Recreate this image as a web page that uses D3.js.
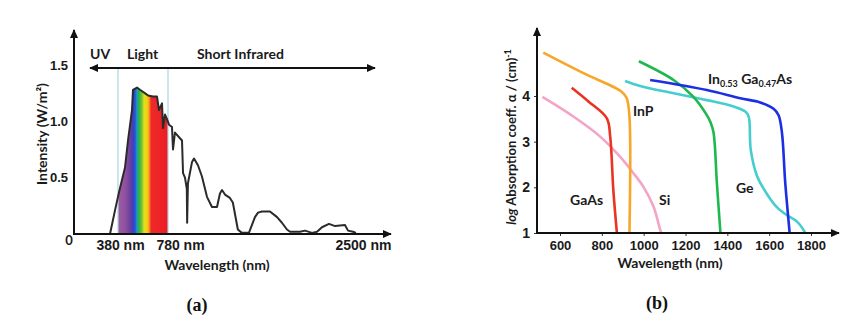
<!DOCTYPE html>
<html>
<head>
<meta charset="utf-8">
<script src="https://cdn.jsdelivr.net/npm/d3@7"></script>
<style>
  html, body { margin: 0; padding: 0; background: #fff; }
  svg { display: block; font-family: Lato, "Liberation Sans", sans-serif; }
  .lbl { font-weight: 700; font-size: 13px; fill: #1a1a1a; }
  .word { font-size: 14px; }
  .cap { font-family: "Liberation Serif", serif; font-weight: 700; font-size: 18px; fill: #111; }
</style>
</head>
<body>
<svg id="chart" width="850" height="335"></svg>
<script>
// ---- (a) solar spectrum at ground level ----
const spectrumNm = [316,356,388,436,460,492,500,532,556,620,660,692,708,732,740,756,772,789,815,824,
  841,885,903,912,929,945,948,955,991,1008,1043,1078,1122,1166,1210,1236,1254,1280,1323,1349,
  1393,1428,1490,1517,1543,1570,1605,1675,1737,1780,1824,1851,1938,1982,2044,2088,2131,2193,2246,2333,
  2360,2404,2430];
const spectrumW = [0,0.21,0.37,0.59,0.83,1.10,1.28,1.30,1.28,1.23,1.22,1.22,1.10,1.16,0.94,1.06,1.02,0.97,0.95,0.75,
  0.90,0.85,0.83,0.54,0.50,0.40,0.10,0.45,0.64,0.67,0.61,0.51,0.33,0.24,0.24,0.36,0.39,0.35,0.32,0.28,
  0.04,0.01,0.01,0.08,0.15,0.19,0.20,0.20,0.15,0.10,0.04,0.02,0.02,0.03,0.01,0.02,0.06,0.09,0.07,0.08,
  0.03,0.02,0.01];
const intensityTicks = [0.5, 1.0, 1.5];
const wavelengthMarks = [380, 780, 2500];
const bandNames = ["UV", "Light", "Short Infrared"];
// visible band colours, keyed by wavelength
const visibleStops = [
  [380, "#a35d9e"], [444, "#8a4f9f"], [476, "#6a40a0"], [492, "#5b3aa6"], [504, "#3a3fc8"],
  [520, "#1f62dc"], [532, "#1aa2bf"], [544, "#22b04e"], [572, "#7cc232"], [588, "#d8e11f"],
  [612, "#f8d012"], [628, "#f6a01e"], [644, "#ee2a2a"], [780, "#ec1c24"]
];

// ---- (b) absorption coefficient of detector materials: [wavelength nm, log alpha] ----
const InP    = [[520,4.95],[712,4.50],[896,4.09],[919,3.95],[932,3.55],[932,1.0]];
const GaAs   = [[656,4.18],[736,3.88],[824,3.51],[840,3.11],[855,1.94],[872,1.0]];
const Si     = [[516,3.98],[664,3.55],[792,3.11],[887,2.67],[951,2.31],[999,2.01],[1047,1.58],[1079,1.07],[1085,1.0]];
const Ge     = [[911,4.33],[983,4.22],[1143,4.06],[1302,3.91],[1430,3.77],[1486,3.66],[1502,3.55],[1512,2.82],
                [1542,2.25],[1590,1.85],[1638,1.56],[1685,1.39],[1733,1.25],[1773,1.0]];
const greenCurve = [[977,4.76],[1143,4.35],[1238,3.98],[1302,3.58],[1320,3.42],[1334,3.2],[1350,2.1],[1367,1.0]];
const InGaAs = [[1031,4.35],[1302,4.13],[1462,3.95],[1557,3.86],[1621,3.72],[1645,3.58],[1661,3.2],[1677,2.09],[1698,1.0]];
const materials = [
  { data: Si,         color: "#f5a3c7" },
  { data: GaAs,       color: "#ea3320" },
  { data: InP,        color: "#f8a627" },
  { data: Ge,         color: "#45cdd0" },
  { data: greenCurve, color: "#1fb84f" },
  { data: InGaAs,     color: "#1c2fe4" }
];
const logTicks = [1, 2, 3, 4];
const nmTicks = [600, 800, 1000, 1200, 1400, 1600, 1800];

const svg = d3.select("#chart");
const defs = svg.append("defs");
defs.append("marker")
  .attr("id", "head").attr("viewBox", "0 0 10 10")
  .attr("refX", 9).attr("refY", 5)
  .attr("markerUnits", "userSpaceOnUse")
  .attr("markerWidth", 9).attr("markerHeight", 9)
  .attr("orient", "auto-start-reverse")
  .append("path").attr("d", "M0,0.5 L10,5 L0,9.5 z").attr("fill", "#111");

// ================= panel (a) =================
const xa = d3.scaleLinear().domain([380, 780, 2500]).range([118, 168, 364]);
const ya = d3.scaleLinear().domain([0, 1.5]).range([234, 65]);
const ga = svg.append("g");
const spectrum = spectrumNm.map((d, i) => [d, spectrumW[i]]);

// rainbow fill under the curve across the visible band
const grad = defs.append("linearGradient").attr("id", "rainbow")
  .attr("gradientUnits", "userSpaceOnUse")
  .attr("x1", xa(380)).attr("x2", xa(780)).attr("y1", 0).attr("y2", 0);
grad.selectAll("stop").data(visibleStops).join("stop")
  .attr("offset", d => (d[0] - 380) / 400)
  .attr("stop-color", d => d[1]);
defs.append("clipPath").attr("id", "visClip").append("rect")
  .attr("x", xa(380)).attr("y", 0).attr("width", xa(780) - xa(380)).attr("height", ya(0));
ga.append("path")
  .datum(spectrum)
  .attr("clip-path", "url(#visClip)")
  .attr("fill", "url(#rainbow)")
  .attr("d", d3.area().x(d => xa(d[0])).y0(ya(0)).y1(d => ya(d[1])));

// band boundaries
ga.selectAll("line.band").data([380, 780]).join("line").attr("class", "band")
  .attr("x1", d => xa(d)).attr("x2", d => xa(d))
  .attr("y1", 68).attr("y2", ya(0))
  .attr("stroke", "#a9d5e2").attr("stroke-width", 1.2);

ga.append("path")
  .datum(spectrum)
  .attr("fill", "none").attr("stroke", "#2b2b2b").attr("stroke-width", 2)
  .attr("stroke-linejoin", "round")
  .attr("d", d3.line().x(d => xa(d[0])).y(d => ya(d[1])));

// axes with arrow heads
ga.append("line").attr("x1", 74).attr("x2", 74).attr("y1", ya(0) + 1).attr("y2", 30)
  .attr("stroke", "#111").attr("stroke-width", 2).attr("marker-end", "url(#head)");
ga.append("line").attr("x1", 73).attr("x2", 391).attr("y1", ya(0)).attr("y2", ya(0))
  .attr("stroke", "#111").attr("stroke-width", 2).attr("marker-end", "url(#head)");
// range arrow for the bands
ga.append("line").attr("x1", 90).attr("x2", 375).attr("y1", 68).attr("y2", 68)
  .attr("stroke", "#111").attr("stroke-width", 1.8)
  .attr("marker-start", "url(#head)").attr("marker-end", "url(#head)");
ga.selectAll("text.band").data(bandNames).join("text").attr("class", "lbl word band")
  .attr("x", (d, i) => [90, 127, 197][i]).attr("y", 59).text(d => d);

const ayAxis = ga.append("g").attr("transform", "translate(74,0)")
  .call(d3.axisLeft(ya).tickValues(intensityTicks).tickFormat(d3.format(".1f")).tickSize(0).tickPadding(6));
ayAxis.select(".domain").remove();
ayAxis.selectAll("text").attr("class", "lbl").attr("font-family", null).attr("font-size", null);
ga.append("text").attr("class", "lbl").attr("x", 69).attr("y", ya(0) + 11).attr("text-anchor", "middle").text("0");

const axAxis = ga.append("g").attr("transform", `translate(0,${ya(0)})`)
  .call(d3.axisBottom(xa).tickValues(wavelengthMarks).tickFormat(d => d + " nm").tickSize(0));
axAxis.select(".domain").remove();
axAxis.selectAll("text").attr("class", "lbl word").attr("font-family", null).attr("font-size", null)
  .attr("y", 16).attr("dy", 0)
  .attr("dx", d => d === 780 ? 12 : (d === 380 ? 2 : -1));
ga.append("text").attr("class", "lbl word").attr("x", 217).attr("y", 270).attr("text-anchor", "middle")
  .text("Wavelength (nm)");
ga.append("text").attr("class", "lbl word")
  .attr("transform", "translate(47,134) rotate(-90)").attr("text-anchor", "middle")
  .text("Intensity (W/m²)");

svg.append("text").attr("class", "cap").attr("x", 197).attr("y", 311).attr("text-anchor", "middle").text("(a)");

// ================= panel (b) =================
const xb = d3.scaleLinear().domain([600, 1800]).range([560, 811]);
const yb = d3.scaleLinear().domain([1, 4]).range([233, 96]);
const gb = svg.append("g");
const line = d3.line().x(d => xb(d[0])).y(d => yb(d[1])).curve(d3.curveCatmullRom.alpha(0.5));

gb.selectAll("path.mat").data(materials).join("path").attr("class", "mat")
  .attr("fill", "none").attr("stroke", d => d.color).attr("stroke-width", 2.6)
  .attr("stroke-linejoin", "round")
  .attr("d", d => line(d.data));

const byAxis = gb.append("g").attr("transform", `translate(${xb(490)},0)`)
  .call(d3.axisLeft(yb).tickValues(logTicks).tickFormat(d3.format("d")).tickSize(3).tickPadding(4));
byAxis.select(".domain").remove();
byAxis.selectAll("line").attr("stroke", "#333");
byAxis.selectAll("text").attr("class", "lbl word").attr("font-family", null).attr("font-size", null);

const bxAxis = gb.append("g").attr("transform", `translate(0,${yb(1)})`)
  .call(d3.axisBottom(xb).tickValues(nmTicks).tickFormat(d3.format("d")).tickSize(3));
bxAxis.select(".domain").remove();
bxAxis.selectAll("line").attr("stroke", "#333");
bxAxis.selectAll("text").attr("class", "lbl").attr("font-family", null).attr("font-size", null)
  .attr("y", 17).attr("dy", 0);

gb.append("line").attr("x1", xb(490)).attr("x2", xb(490)).attr("y1", yb(1) + 1).attr("y2", 28)
  .attr("stroke", "#111").attr("stroke-width", 2).attr("marker-end", "url(#head)");
gb.append("line").attr("x1", xb(490) - 1).attr("x2", 839).attr("y1", yb(1)).attr("y2", yb(1))
  .attr("stroke", "#111").attr("stroke-width", 2).attr("marker-end", "url(#head)");

gb.append("text").attr("class", "lbl word").attr("x", 670).attr("y", 268).attr("text-anchor", "middle")
  .text("Wavelength (nm)");
const yl = gb.append("text").attr("class", "lbl")
  .attr("transform", "translate(516,137) rotate(-90)").attr("text-anchor", "middle");
yl.append("tspan").attr("font-style", "italic").text("log");
yl.append("tspan").text(" Absorption coeff. α / (cm)");
yl.append("tspan").attr("dy", -5).attr("font-size", 9).text("-1");

// material names
const names = [
  { t: "InP", x: 633, y: 116 },
  { t: "GaAs", x: 570, y: 205 },
  { t: "Si", x: 659, y: 205 },
  { t: "Ge", x: 736, y: 193 }
];
gb.selectAll("text.name").data(names).join("text").attr("class", "lbl word name")
  .attr("x", d => d.x).attr("y", d => d.y).text(d => d.t);
const ig = gb.append("text").attr("class", "lbl word").attr("x", 708).attr("y", 84);
ig.append("tspan").text("In");
ig.append("tspan").attr("dy", 3).attr("font-size", 9).text("0.53");
ig.append("tspan").attr("dy", -3).text(" Ga");
ig.append("tspan").attr("dy", 3).attr("font-size", 9).text("0.47");
ig.append("tspan").attr("dy", -3).text("As");

svg.append("text").attr("class", "cap").attr("x", 657).attr("y", 309).attr("text-anchor", "middle").text("(b)");
</script>
</body>
</html>
